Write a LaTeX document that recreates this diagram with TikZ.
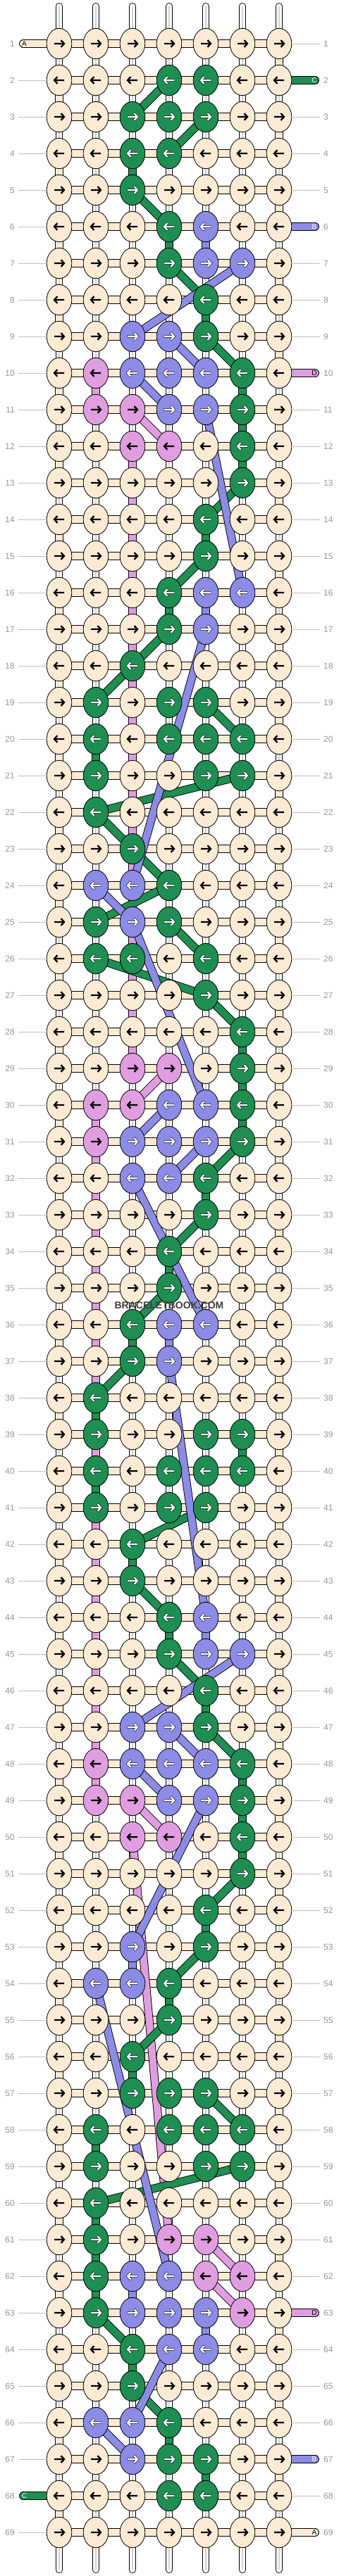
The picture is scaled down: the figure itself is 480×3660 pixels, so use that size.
\documentclass[tikz,border=0pt]{standalone}
\usepackage{fontspec}
\setmainfont{Liberation Sans}
\usetikzlibrary{shapes.geometric}
\definecolor{cW}{RGB}{252,235,212}
\definecolor{cG}{RGB}{31,142,82}
\definecolor{cP}{RGB}{140,139,230}
\definecolor{cK}{RGB}{224,158,224}
\colorlet{cQ}{cK}
\colorlet{aW}{black}\colorlet{aK}{black}\colorlet{aQ}{black}
\colorlet{aG}{white}\colorlet{aP}{white}
\colorlet{oW}{cW}\colorlet{oK}{cK}\colorlet{oQ}{cK}
\colorlet{oG}{black}\colorlet{oP}{black}
\definecolor{lblgray}{RGB}{150,150,150}
\definecolor{linegray}{RGB}{190,190,190}
\definecolor{wmgray}{RGB}{62,62,62}
\tikzset{
  strand/.style={draw=black, line width=0.9pt, double=#1, double distance=10pt, line cap=round},
  knot/.style={ellipse, draw=black, line width=0.8pt, minimum width=35.6pt, minimum height=43.4pt, inner sep=0pt},
  rowlbl/.style={text=lblgray, font=\fontsize{12}{12}\selectfont, inner sep=0pt},
  tag/.style={font=\fontsize{10}{10}\selectfont, inner sep=0pt},
  arr/.style={line width=#1, line join=miter, line cap=butt},
  guide/.style={draw=linegray, line width=0.8pt},
}
\begin{document}
\begin{tikzpicture}[x=1pt,y=-1pt]
\useasboundingbox (0,0) rectangle (480,3660);
\fill[white] (0,0) rectangle (480,3660);
% positions
\foreach \r in {1,...,69}{\foreach \c in {1,...,7}{\coordinate (p-\r-\c) at ({84+52*(\c-1)},{62+52*(\r-1)});}}
% warps
\foreach \c in {1,...,7}{
  \coordinate (wt-\c) at ({84+52*(\c-1)},9);
  \coordinate (wb-\c) at ({84+52*(\c-1)},3651);
  \draw[line width=10pt, line cap=round] (wt-\c) -- (wb-\c);
  \draw[white, line width=8.2pt, line cap=round] (wt-\c) -- (wb-\c);
  \draw[gray!35, line width=2pt] (wt-\c) -- (wb-\c);
}
% string A
\foreach \r in {1,...,68}{
  \pgfmathtruncatemacro\rn{\r+1}
  \ifodd\r\relax \draw[strand=cW] (p-\r-7) -- (p-\rn-7); \else \draw[strand=cW] (p-\r-1) -- (p-\rn-1); \fi
}
\foreach \r in {1,...,69}{\draw[strand=cW] (p-\r-1) -- (p-\r-7);}
\coordinate (sA1) at (33,62); \coordinate (sA2) at (447,3598);
\draw[strand=cW] (sA1) -- (p-1-1);
\draw[strand=cW] (p-69-7) -- (sA2);
% stubs of coloured strings
\coordinate (sC1) at (447,114); \coordinate (sC2) at (33,3546);
\coordinate (sB1) at (447,322); \coordinate (sB2) at (447,3494);
\coordinate (sD1) at (447,530); \coordinate (sD2) at (447,3286);
\draw[strand=cG] (p-2-7) -- (sC1);
\draw[strand=cG] (sC2) -- (p-68-1);
\draw[strand=cP] (p-6-7) -- (sB1);
\draw[strand=cP] (p-67-7) -- (sB2);
\draw[strand=cK] (p-10-7) -- (sD1);
\draw[strand=cK] (p-63-7) -- (sD2);
% string D (pink)
\foreach \ra/\ca/\rb/\cb in {10/2/11/2, 11/3/12/4, 12/3/29/3, 29/4/30/3, 30/2/31/2, 31/2/48/2, 48/2/49/2, 49/3/50/4, 50/3/61/4, 61/5/62/6, 62/5/63/6}
  {\draw[strand=cK] (p-\ra-\ca) -- (p-\rb-\cb);}
% string C (green)
\foreach \ra/\ca/\rb/\cb in {2/4/3/3, 3/5/4/4, 4/3/5/3, 5/3/6/4, 6/4/7/4, 7/4/8/5, 8/5/9/5, 9/5/10/6, 10/6/11/6, 11/6/12/6, 12/6/13/6, 13/6/14/5, 14/5/15/5, 15/5/16/4, 16/4/17/4, 17/4/18/3, 18/3/19/2, 19/5/20/6, 20/2/21/2, 21/6/22/2, 22/2/23/3, 23/3/24/4, 24/4/25/2, 25/4/26/5, 26/2/27/5, 27/5/28/6, 28/6/29/6, 29/6/30/6, 30/6/31/6, 31/6/32/5, 32/5/33/5, 33/5/34/4, 34/4/35/4, 35/4/36/3, 36/3/37/3, 37/3/38/2, 38/2/39/2, 39/6/40/6, 40/2/41/2, 41/5/42/3, 42/3/43/3, 43/3/44/4, 44/4/45/4, 45/4/46/5, 46/5/47/5, 47/5/48/6, 48/6/49/6, 49/6/50/6, 50/6/51/6, 51/6/52/5, 52/5/53/5, 53/5/54/4, 54/4/55/4, 55/4/56/3, 56/3/57/3, 57/5/58/6, 58/2/59/2, 59/6/60/2, 60/2/61/2, 61/2/62/2, 62/2/63/2, 63/2/64/3, 64/3/65/3, 65/3/66/4, 66/4/67/4, 67/5/68/5}
  {\draw[strand=cG] (p-\ra-\ca) -- (p-\rb-\cb);}
% string B (purple)
\foreach \ra/\ca/\rb/\cb in {6/5/7/5, 7/6/9/3, 9/4/10/5, 10/3/11/4, 11/5/16/6, 16/5/17/5, 17/5/24/3, 24/2/25/3, 25/3/30/5, 30/4/31/3, 31/5/32/4, 32/3/36/5, 36/4/37/4, 37/4/44/5, 44/5/45/5, 45/6/47/3, 47/4/48/5, 48/3/49/4, 49/5/53/3, 53/3/54/3, 54/2/62/4, 62/3/63/3, 63/5/64/5, 64/4/66/3, 66/2/67/3}
  {\draw[strand=cP] (p-\ra-\ca) -- (p-\rb-\cb);}
% knots
\foreach \r/\ka/\kb/\kc/\kd/\ke/\kf/\kg in {
1/W/W/W/W/W/W/W, 2/W/W/W/G/G/W/W, 3/W/W/G/G/G/W/W, 4/W/W/G/G/W/W/W, 5/W/W/G/W/W/W/W,
6/W/W/W/G/P/W/W, 7/W/W/W/G/P/P/W, 8/W/W/W/W/G/W/W, 9/W/W/P/P/G/W/W, 10/W/K/P/P/P/G/W,
11/W/K/K/P/P/G/W, 12/W/W/K/K/W/G/W, 13/W/W/W/W/W/G/W, 14/W/W/W/W/G/W/W, 15/W/W/W/W/G/W/W,
16/W/W/W/G/P/P/W, 17/W/W/W/G/P/W/W, 18/W/W/G/W/W/W/W, 19/W/G/W/G/G/W/W, 20/W/G/W/G/G/G/W,
21/W/G/W/W/G/G/W, 22/W/G/W/W/W/W/W, 23/W/W/G/W/W/W/W, 24/W/P/P/G/W/W/W, 25/W/G/P/G/W/W/W,
26/W/G/G/W/G/W/W, 27/W/W/W/W/G/W/W, 28/W/W/W/W/W/G/W, 29/W/W/K/K/W/G/W, 30/W/K/K/P/P/G/W,
31/W/K/P/P/P/G/W, 32/W/W/P/P/G/W/W, 33/W/W/W/W/G/W/W, 34/W/W/W/G/W/W/W, 35/W/W/W/G/W/W/W,
36/W/W/G/P/P/W/W, 37/W/W/G/P/W/W/W, 38/W/G/W/W/W/W/W, 39/W/G/W/W/G/G/W, 40/W/G/W/G/G/G/W,
41/W/G/W/G/G/W/W, 42/W/W/G/W/W/W/W, 43/W/W/G/W/W/W/W, 44/W/W/W/G/P/W/W, 45/W/W/W/G/P/P/W,
46/W/W/W/W/G/W/W, 47/W/W/P/P/G/W/W, 48/W/K/P/P/P/G/W, 49/W/K/K/P/P/G/W, 50/W/W/K/K/W/G/W,
51/W/W/W/W/W/G/W, 52/W/W/W/W/G/W/W, 53/W/W/P/W/G/W/W, 54/W/P/P/G/W/W/W, 55/W/W/W/G/W/W/W,
56/W/W/G/W/W/W/W, 57/W/W/G/G/G/W/W, 58/W/G/W/G/G/G/W, 59/W/G/W/W/G/G/W, 60/W/G/W/W/W/W/W,
61/W/G/W/K/K/W/W, 62/W/G/P/P/K/K/W, 63/W/G/P/P/P/K/W, 64/W/W/G/P/P/W/W, 65/W/W/G/W/W/W/W,
66/W/P/P/G/W/W/W, 67/W/W/P/G/G/W/W, 68/W/W/W/G/G/W/W, 69/W/W/W/W/W/W/W}{
  \ifodd\r\relax \def\dd{1}\else\def\dd{-1}\fi
  \foreach \c/\k in {1/\ka,2/\kb,3/\kc,4/\kd,5/\ke,6/\kf,7/\kg}{
    \edef\kk{\k}
    \node[knot, fill=c\kk] (n-\r-\c) at (p-\r-\c) {};
    \draw[arr=3.4pt, draw=o\kk, shift={(p-\r-\c)}] (-7.4*\dd,0) -- (6.7*\dd,0) (2.3*\dd,-5.2) -- (7*\dd,0) -- (2.3*\dd,5.2);
    \draw[arr=2.3pt, draw=a\kk, shift={(p-\r-\c)}] (-7*\dd,0) -- (6.7*\dd,0) (2.5*\dd,-4.9) -- (7*\dd,0) -- (2.5*\dd,4.9);
  }
}
% stub tags
\node[tag] (tA1) at (34.5,62) {A};
\node[tag] (tA2) at (446,3598) {A};
\node[tag, text=white] (tC1) at (446,114) {C};
\node[tag, text=white] (tC2) at (34.5,3546) {C};
\node[tag, text=white] (tB1) at (446,322) {B};
\node[tag, text=white] (tB2) at (446,3494) {B};
\node[tag] (tD1) at (446,530) {D};
\node[tag] (tD2) at (446,3286) {D};
% row labels and guides
\foreach \r in {1,...,69}{
  \pgfmathsetmacro\yy{62+52*(\r-1)}
  \node[rowlbl, anchor=east] (ll-\r) at (21,\yy) {\r};
  \node[rowlbl, anchor=west] (rl-\r) at (459,\yy) {\r};
  \coordinate (gl-\r) at (26,\yy);
  \coordinate (gr-\r) at (454,\yy);
}
\foreach \r in {2,...,67,69}{\draw[guide] (gl-\r) -- (n-\r-1.west);}
\foreach \r in {1,3,4,5,7,8,9,11,12,13,14,15,16,17,18,19,20,21,22,23,24,25,26,27,28,29,30,31,32,33,34,35,36,37,38,39,40,41,42,43,44,45,46,47,48,49,50,51,52,53,54,55,56,57,58,59,60,61,62,64,65,66,68}{\draw[guide] (n-\r-7.east) -- (gr-\r);}
% watermark
\node[text=wmgray, font=\bfseries\fontsize{14}{14}\selectfont, inner sep=0pt] (wm) at (240,1855) {BRACELETBOOK.COM};
\end{tikzpicture}
\end{document}
